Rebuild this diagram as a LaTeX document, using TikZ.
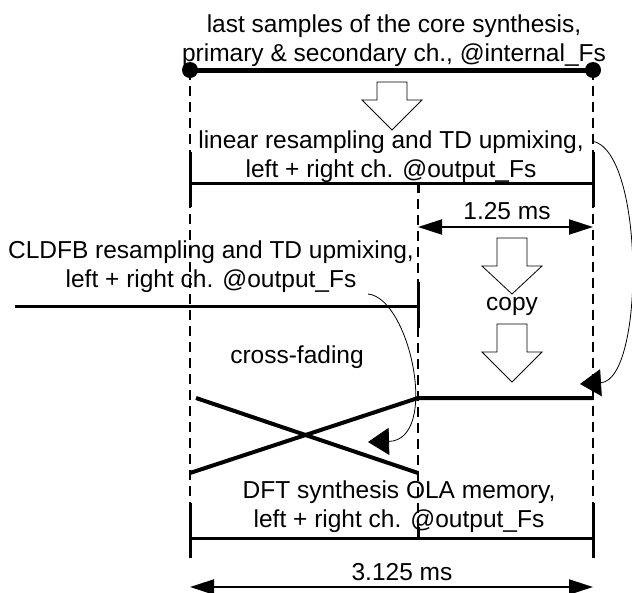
\documentclass[tikz,border=0pt]{standalone}
\usepackage{fontspec}
\setmainfont{Liberation Sans}
\usetikzlibrary{arrows.meta}
\tikzset{
    lbl/.style={align=center, inner sep=0pt, font=\fontsize{24.5}{29}\selectfont},
    guide/.style={line width=1.5pt, dash pattern=on 10pt off 6pt},
    bar/.style={line width=3pt},
    fade/.style={line width=4pt},
    dimarrow/.style={line width=2pt, {Triangle[length=24pt,width=15pt]}-{Triangle[length=24pt,width=15pt]}},
    note/.style={line width=0.8pt, -{Triangle[length=21pt,width=27pt]}},
    pics/hollow/.style 2 args={code={
        \draw[line width=0.8pt, fill=white] (-15,0) -- (15,0) -- (15,#1) -- (30,#1)
            -- (0,#1+#2) -- (-30,#1) -- (-15,#1) -- cycle;}}
}
\begin{document}
\begin{tikzpicture}[x=1pt,y=-1pt]
    \useasboundingbox (0,0) rectangle (632,592);
    \draw[guide] (190,70) -- (190,558) ; %frame edges
    \draw[guide] (593,70) -- (593,558) ;
    \draw[guide] (418,183) -- (418,538) ;

    % core synthesis
    \coordinate (coreL) at (190,70);
    \coordinate (coreR) at (593,70);
    \draw[line width=5pt] (coreL) -- (coreR);
    \fill (coreL) circle (8pt);
    \fill (coreR) circle (8pt);
    \node[lbl] (core) at (394,41) {last samples of the core synthesis,\\primary \& secondary ch., @internal\_Fs};
    \pic at (392,82) {hollow={18}{30}};

    % linear resampling
    \node[lbl] (linear) at (391,157) {linear resampling and TD upmixing,\\left + right ch. @output\_Fs};
    \draw[bar] (190,183) -- (593,183);
    \draw[bar] (190,152) -- (190,207);
    \draw[bar] (593,152) -- (593,207);
    \draw[bar] (418,183) -- (418,193);

    % 1.25 ms
    \coordinate (shortL) at (418,227);
    \coordinate (shortR) at (593,227);
    \draw[dimarrow] (shortL) -- (shortR);
    \node[lbl] (dur1) at (507,211) {1.25 ms};
    \pic at (512,238) {hollow={28}{28}};
    \node[lbl] (copy) at (512,306) {copy};
    \pic at (512,324) {hollow={28}{30}};

    % CLDFB
    \node[lbl] (cldfb) at (211,267) {CLDFB resampling and TD upmixing,\\left + right ch. @output\_Fs};
    \draw[bar] (15,306) -- (418,306);
    \draw[bar] (418,282) -- (418,328);
    \node[lbl] (fading) at (297,357) {cross-fading};

    % cross-fade
    \draw[fade] (196,398) -- (418,473);
    \draw[fade] (190,473) -- (418,398) -- (593,398);

    % OLA memory
    \node[lbl] (ola) at (399,507) {DFT synthesis OLA memory,\\left + right ch. @output\_Fs};
    \draw[bar] (190,538) -- (593,538);
    \draw[bar] (190,503) -- (190,558);
    \draw[bar] (593,503) -- (593,558);
    \draw[bar] (418,527) -- (418,538);

    % 3.125 ms
    \coordinate (longL) at (190,587);
    \coordinate (longR) at (593,587);
    \draw[dimarrow] (longL) -- (longR);
    \node[lbl] (dur2) at (402,572) {3.125 ms};

    % pointers
    \coordinate (linTail) at (592,141);
    \coordinate (linHead) at (580,384);
    \draw[note] (linTail) .. controls (645,150) and (645,380) .. (linHead);
    \coordinate (cldTail) at (368,294);
    \coordinate (cldHead) at (368,442);
    \draw[note] (cldTail) .. controls (410,298) and (440,440) .. (cldHead);
\end{tikzpicture}
\end{document}
